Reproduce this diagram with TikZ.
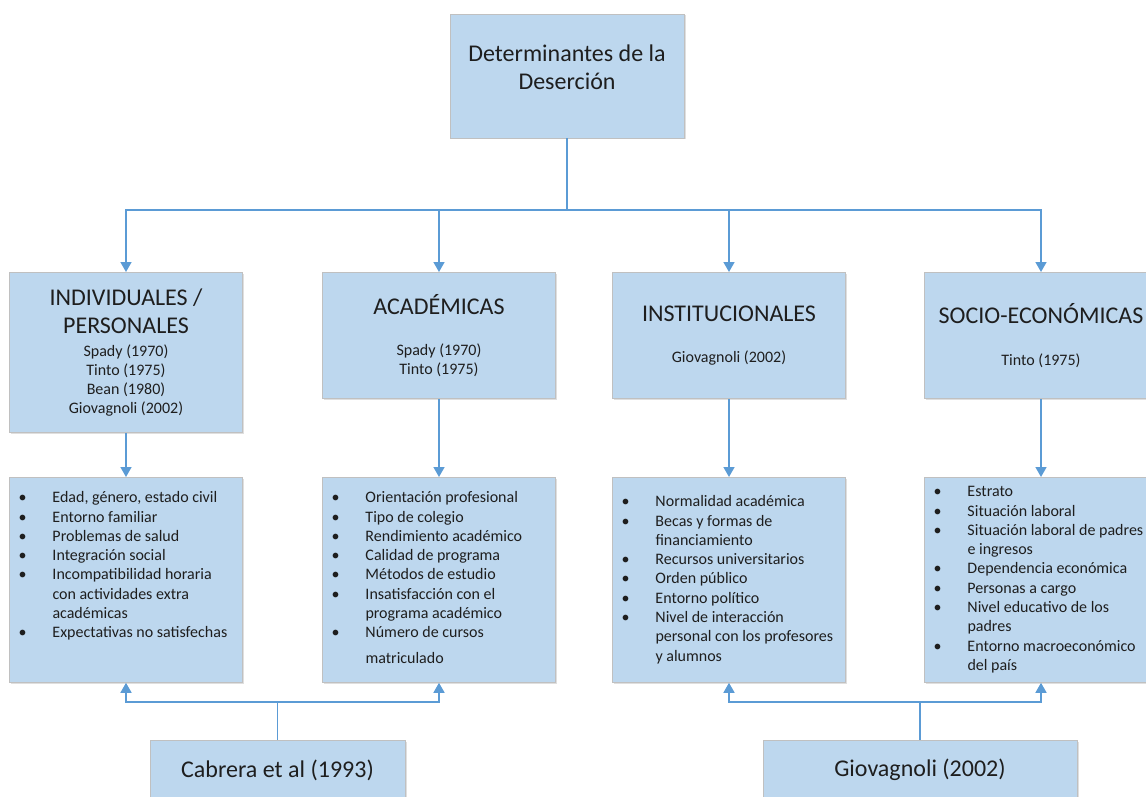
\documentclass[tikz,border=0pt]{standalone}
\usepackage{fontspec}
\setmainfont{Carlito}
\usetikzlibrary{arrows.meta,shadows}

\definecolor{boxFill}{RGB}{189,215,238}
\definecolor{boxEdge}{RGB}{192,192,192}
\definecolor{linkBlue}{RGB}{91,155,213}
\definecolor{inkGray}{RGB}{30,30,30}

\def\boxWidth{233}
\def\listHeight{205}
\def\listIndent{43pt}
\def\bulletShift{9pt}

%% one bullet line of a list box
\newcommand{\listitem}[1]{\par\noindent\hangindent=\listIndent\hangafter=1
    \strut\makebox[\listIndent][l]{\hspace{\bulletShift}\textbullet}#1}
%% list box contents: #1 top gap, #2 items
\newcommand{\bulletlist}[2]{\parbox[t][\listHeight pt][t]{\boxWidth pt}{%
    \fontsize{16}{19.3}\selectfont\parskip=0pt
    \rightskip=-20pt plus 1fil\parfillskip=0pt plus 1fil
    \vspace*{#1}#2\par}}
%% category box contents: #1 heading, #2 gap, #3 authors
\newcommand{\catlabel}[3]{\parbox{\boxWidth pt}{\centering
    \fontsize{24}{28}\selectfont #1\par
    \vspace{#2}
    \fontsize{16}{19}\selectfont #3\par}}

\begin{document}
\begin{tikzpicture}[x=1pt, y=-1pt,
        every node/.style={text=inkGray, inner sep=0pt},
        box/.style={draw=boxEdge, fill=boxFill, line width=0.8pt,
            drop shadow={shadow xshift=1.5pt, shadow yshift=-1.5pt, opacity=0.25}},
        link/.style={draw=linkBlue, line width=1.6pt},
        flow/.style={link, -{Triangle[width=11pt,length=10pt]}}
    ]
    \useasboundingbox (0,0) rectangle (1146,797);
    \clip (0,0) rectangle (1146,797);

    %% root
    \node [box, minimum width=234pt, minimum height=124pt] (det) at (567,76) {
        \parbox{234pt}{\centering\fontsize{24}{28}\selectfont
            Determinantes de la\\Deserción\par\vspace{17pt}}
    };

    %% categories
    \node [box, anchor=north, minimum width=\boxWidth pt, minimum height=160pt] (ind) at (126,272) {
        \catlabel{INDIVIDUALES /\\PERSONALES}{3.5pt}{Spady (1970)\\Tinto (1975)\\Bean (1980)\\Giovagnoli (2002)}
    };
    \node [box, anchor=north, minimum width=\boxWidth pt, minimum height=126pt] (aca) at (439,272) {
        \catlabel{ACADÉMICAS}{21.5pt}{Spady (1970)\\Tinto (1975)}
    };
    \node [box, anchor=north, minimum width=\boxWidth pt, minimum height=126pt] (ins) at (729,272) {
        \catlabel{INSTITUCIONALES}{22.5pt}{Giovagnoli (2002)}
    };
    \node [box, anchor=north, minimum width=\boxWidth pt, minimum height=126pt] (soc) at (1041,272) {
        \catlabel{SOCIO-ECONÓMICAS}{22.5pt}{Tinto (1975)}
    };

    %% factor lists
    \node [box, anchor=north] (ind-list) at (126,477) {
        \bulletlist{11.8pt}{
            \listitem{Edad, género, estado civil}
            \listitem{Entorno familiar}
            \listitem{Problemas de salud}
            \listitem{Integración social}
            \listitem{Incompatibilidad horaria\newline con actividades extra\newline académicas}
            \listitem{Expectativas no satisfechas}
        }
    };
    \node [box, anchor=north] (aca-list) at (439,477) {
        \bulletlist{11.8pt}{
            \listitem{Orientación profesional}
            \listitem{Tipo de colegio}
            \listitem{Rendimiento académico}
            \listitem{Calidad de programa}
            \listitem{Métodos de estudio}
            \listitem{Insatisfacción con el\newline programa académico}
            \listitem{Número de cursos\vadjust{\vskip 6.7pt}\newline matriculado}
        }
    };
    \node [box, anchor=north] (ins-list) at (729,477) {
        \bulletlist{15.8pt}{
            \listitem{Normalidad académica}
            \listitem{Becas y formas de\newline financiamiento}
            \listitem{Recursos universitarios}
            \listitem{Orden público}
            \listitem{Entorno político}
            \listitem{Nivel de interacción\newline personal con los profesores\newline y alumnos}
        }
    };
    \node [box, anchor=north] (soc-list) at (1041,477) {
        \bulletlist{5.8pt}{
            \listitem{Estrato}
            \listitem{Situación laboral}
            \listitem{Situación laboral de padres\newline e ingresos}
            \listitem{Dependencia económica}
            \listitem{Personas a cargo}
            \listitem{Nivel educativo de los\newline padres}
            \listitem{Entorno macroeconómico\newline del país}
        }
    };

    %% sources
    \node [box, minimum width=255pt, minimum height=60pt, font=\fontsize{24}{28}\selectfont] (cab) at (277.5,770) {Cabrera et al (1993)};
    \node [box, minimum width=314pt, minimum height=60pt, font=\fontsize{24}{28}\selectfont] (gio) at (920,770) {Giovagnoli (2002)};

    %% connectors
    \coordinate (rootJoin) at (567,210);
    \draw [link] (det.south) -- (rootJoin);
    \foreach \cat in {ind,aca,ins,soc} {
        \draw [flow] (rootJoin) -| (\cat.north);
        \draw [flow] (\cat.south) -- (\cat-list.north);
    }
    \coordinate (cabJoin) at (277.5,702);
    \draw [link] (cab.north) -- (cabJoin);
    \draw [flow] (cabJoin) -| (ind-list.south);
    \draw [flow] (cabJoin) -| (aca-list.south);
    \coordinate (gioJoin) at (920,702);
    \draw [link] (gio.north) -- (gioJoin);
    \draw [flow] (gioJoin) -| (ins-list.south);
    \draw [flow] (gioJoin) -| (soc-list.south);
\end{tikzpicture}
\end{document}
